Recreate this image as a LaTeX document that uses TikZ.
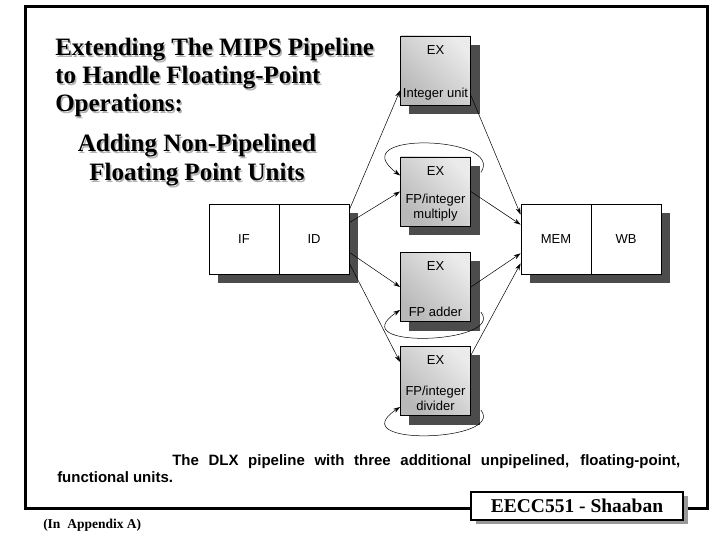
\documentclass[tikz,border=0pt]{standalone}
\usepackage{fontspec}
\setmainfont{Liberation Serif}
\setsansfont{Liberation Sans}
\usetikzlibrary{arrows.meta,shadows,backgrounds}
\newcommand{\shtext}[1]{\makebox[0pt][l]{\hspace{1.5pt}\raisebox{-1.5pt}{\textcolor{black!30}{#1}}}#1}
\newcommand{\exlabel}[1]{\parbox[c][60pt]{68pt}{\centering\vspace*{5pt}EX\par\vfill #1}}

\begin{document}
\begin{tikzpicture}[x=1pt,y=-1pt,line width=.5pt,
  stage/.style={draw,line width=.8pt,fill=white,minimum width=70pt,minimum height=70pt,inner sep=0pt,font=\sffamily\fontsize{13}{15}\selectfont},
  exbox/.style={draw,line width=.8pt,minimum width=70pt,minimum height=69pt,inner sep=0pt,left color=black!28,right color=black!8,shading angle=135,font=\sffamily\fontsize{13}{15}\selectfont},
  flow/.style={-{Stealth[length=7pt,width=4.5pt]},line width=.5pt}]
\useasboundingbox (0,0) rectangle (720,540);
\draw[line width=3pt] (25,7) rectangle (707,508);
\node[anchor=north west,inner sep=0pt,align=left,font=\bfseries\fontsize{25}{28}\selectfont] (title) at (55,38)
  {\shtext{Extending The MIPS Pipeline}\\\shtext{to Handle Floating-Point}\\\shtext{Operations:}};
\node[inner sep=0pt,align=center,font=\bfseries\fontsize{25}{29}\selectfont] (subtitle) at (197,161)
  {\shtext{Adding Non-Pipelined}\\\shtext{Floating Point Units}};
\node[stage] (if) at (244,239) {IF};
\node[stage] (id) at (314,239) {ID};
\node[stage] (mem) at (556,239) {MEM};
\node[stage] (wb) at (626,239) {WB};
\node[exbox] (exint) at (435.5,70.5) {\exlabel{Integer unit}};
\node[exbox] (exmul) at (435.5,191.5) {\exlabel{FP/integer\\multiply}};
\node[exbox] (exadd) at (435.5,287) {\exlabel{FP adder}};
\node[exbox] (exdiv) at (435.5,381) {\exlabel{FP/integer\\divider}};
\begin{scope}[on background layer]
\foreach \a/\b in {if/id,mem/wb,exint/exint,exmul/exmul,exadd/exadd,exdiv/exdiv}
  \fill[black!70] ([shift={(9pt,-9pt)}]\a.south west) rectangle ([shift={(9pt,-9pt)}]\b.north east);
\end{scope}
\draw[flow] ([yshift=-6pt]id.north east) -- ([yshift=15pt]exint.south west);
\draw[flow] ([yshift=-19pt]id.north east) -- (exmul.west);
\draw[flow] ([yshift=22pt]id.south east) -- (exadd.west);
\draw[flow] ([yshift=11pt]id.south east) -- ([yshift=-16pt]exdiv.north west);
\draw[flow] ([yshift=10pt]exint.south east) -- ([yshift=-11pt]mem.north west);
\draw[flow] (exmul.east) -- ([yshift=-21pt]mem.north west);
\draw[flow] (exadd.east) -- ([yshift=21pt]mem.south west);
\draw[flow] ([yshift=-9pt]exdiv.north east) -- ([yshift=11pt]mem.south west);
\draw[flow] ([xshift=10pt,yshift=19pt]exmul.east) .. controls +(25,-37) and +(-60,-45) .. ([yshift=16pt]exmul.west);
\draw[flow] ([xshift=10pt,yshift=-25pt]exadd.east) .. controls +(25,32) and +(-60,40) .. ([yshift=-23pt]exadd.west);
\draw[flow] ([xshift=10pt,yshift=-29pt]exdiv.east) .. controls +(25,32) and +(-60,40) .. ([yshift=-26pt]exdiv.west);
\node[anchor=north west,inner sep=0pt,align=left,font=\sffamily\bfseries\fontsize{15}{16.5}\selectfont] (caption) at (57,454.5)
  {\hspace*{115pt}\makebox[508pt][s]{The DLX pipeline with three additional unpipelined, floating-point,}\\functional units.};
\node[draw,line width=1.2pt,fill=white,minimum width=212pt,minimum height=28pt,inner sep=0pt,font=\bfseries\fontsize{19.5}{22}\selectfont,drop shadow={shadow xshift=5pt,shadow yshift=-4pt,fill=black!40,opacity=1}] (author) at (577,506) {EECC551 - Shaaban};
\node[anchor=base west,inner sep=0pt,font=\bfseries\fontsize{13.5}{15}\selectfont] (appendix) at (43,528) {(In\ \ Appendix A)};
\end{tikzpicture}
\end{document}
